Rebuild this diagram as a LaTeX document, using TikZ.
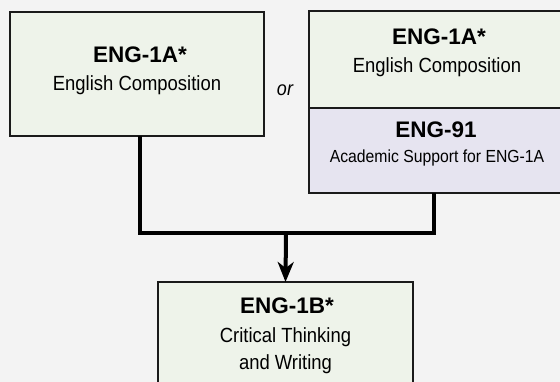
\documentclass[tikz,border=0pt]{standalone}
\usepackage{fontspec}
\setmainfont{Liberation Sans}
\newfontfamily\condfont[FakeStretch=0.9]{Liberation Sans}
\usetikzlibrary{arrows.meta}
\definecolor{bgcol}{HTML}{F3F3F3}
\definecolor{greenfill}{HTML}{EEF3EA}
\definecolor{purplefill}{HTML}{E6E4F0}
\definecolor{edgecol}{HTML}{1A1A1A}
\tikzset{
  boxbase/.style={draw=edgecol, line width=2pt, inner sep=0pt, outer sep=0pt, rectangle},
  greenbox/.style={boxbase, fill=greenfill},
  purplebox/.style={boxbase, fill=purplefill},
  titletext/.style={anchor=base, inner sep=0pt, font=\fontsize{22.5}{26}\selectfont\bfseries},
  subtext/.style={anchor=base, inner sep=0pt, font=\condfont\fontsize{20.5}{24}\selectfont},
  smalltext/.style={anchor=base, inner sep=0pt, font=\condfont\fontsize{17.5}{21}\selectfont},
  ortext/.style={anchor=base, inner sep=0pt, font=\condfont\fontsize{20}{24}\selectfont\itshape},
  conn/.style={draw=black, line width=4pt, line join=miter},
}
\begin{document}
\begin{tikzpicture}[x=1pt,y=-1pt]
\fill[bgcol] (0,0) rectangle (560,382);
\useasboundingbox (0,0) rectangle (560,382);
\clip (0,0) rectangle (560,382);
% boxes
\node[greenbox, minimum width=254pt, minimum height=124pt] (a) at (137,74) {};
\node[greenbox, minimum width=256pt, minimum height=97pt] (b) at (437,59.5) {};
\node[purplebox, minimum width=256pt, minimum height=85pt] (c) at (437,150.5) {};
\node[greenbox, minimum width=255pt, minimum height=118pt] (d) at (285.5,341) {};
% texts
\node[titletext] (a1) at (140,62.7) {ENG-1A*};
\node[subtext] (a2) at (137,90.7) {English Composition};
\node[titletext] (b1) at (439,45) {ENG-1A*};
\node[subtext] (b2) at (437,73) {English Composition};
\node[titletext] (c1) at (436,138) {ENG-91};
\node[smalltext] (c2) at (437,163) {Academic Support for ENG-1A};
\node[titletext] (d1) at (287,314) {ENG-1B*};
\node[subtext] (d2) at (285.5,342) {Critical Thinking};
\node[subtext] (d3) at (285.5,369) {and Writing};
\node[ortext] (or) at (285,96) {or};
% connectors
\coordinate (j) at (286,233);
\draw[conn] ([xshift=3pt]a.south) |- (j) -| ([xshift=-3pt]c.south);
\draw[conn, -{Stealth[length=20pt,width=16pt,inset=6pt]}] (j) -- (d.north);
\end{tikzpicture}
\end{document}
